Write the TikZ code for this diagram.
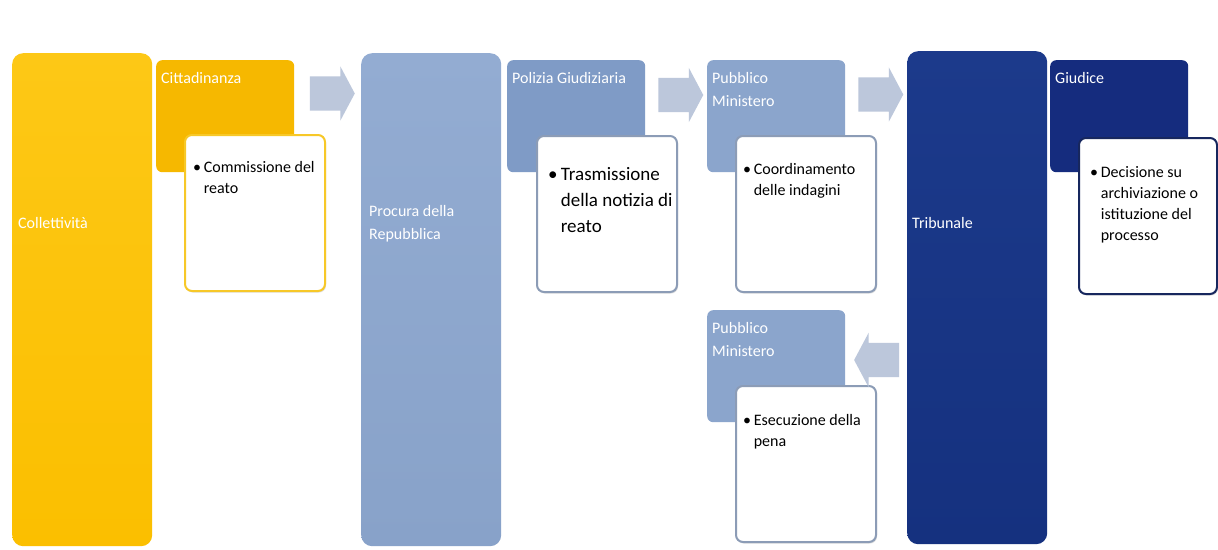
\documentclass[tikz,border=0pt]{standalone}
\usepackage{fontspec}
\setmainfont{Carlito}
\usetikzlibrary{shapes.arrows,shadows,calc}
\definecolor{giallo}{HTML}{FBBF00}
\definecolor{giallochiaro}{HTML}{FDC816}
\definecolor{arancio}{HTML}{F6B800}
\definecolor{bordogiallo}{HTML}{F7C828}
\definecolor{celeste}{HTML}{88A2C9}
\definecolor{celestechiaro}{HTML}{93ACD2}
\definecolor{polizia}{HTML}{7F9BC6}
\definecolor{pmcol}{HTML}{8BA5CC}
\definecolor{bordoceleste}{HTML}{8C9CB6}
\definecolor{blu}{HTML}{15317F}
\definecolor{bluchiaro}{HTML}{1C3A8B}
\definecolor{giudice}{HTML}{152C7E}
\definecolor{bordoblu}{HTML}{17275E}
\definecolor{freccia}{HTML}{BCC7DB}
\newcommand{\punto}[1]{\begin{tabular}[t]{@{}l@{\,}l@{}}\textbullet&\begin{tabular}[t]{@{}l@{}}#1\end{tabular}\end{tabular}}
\begin{document}
\begin{tikzpicture}[x=1pt,y=-1pt,
	colonna/.style={rounded corners=11pt,minimum width=140pt,minimum height=493pt,anchor=north west},
	testata/.style={rounded corners=6pt,minimum width=138pt,minimum height=112pt,anchor=north west},
	scheda/.style={fill=white,line width=2pt,rounded corners=7pt,minimum width=140pt,minimum height=156pt,anchor=north west,drop shadow={opacity=0.25,shadow xshift=1pt,shadow yshift=-1.5pt}},
	blocco/.style={single arrow,fill=freccia,minimum height=45pt,inner xsep=0pt,inner ysep=17pt,single arrow head extend=10pt,single arrow tip angle=124},
	bianco/.style={text=white,font=\fontsize{16}{23}\selectfont,align=left,inner sep=0pt},
	nero/.style={font=\fontsize{16}{21}\selectfont,anchor=north west,inner sep=0pt}]
	\useasboundingbox (0,0) rectangle (1218,549);
	\fill[white] (0,0) rectangle (1218,549);
	% colonne
	\node[colonna,top color=giallochiaro,bottom color=giallo] (coll) at (12,53) {};
	\node[colonna,top color=celestechiaro,bottom color=celeste] (procura) at (361,53) {};
	\node[colonna,top color=bluchiaro,bottom color=blu] (trib) at (907,51) {};
	\node[bianco,anchor=west] at ($(coll.north west)+(6,170)$) {Collettività};
	\node[bianco,anchor=west] at ($(procura.north west)+(8,171)$) {Procura della\\Repubblica};
	\node[bianco,anchor=west] at ($(trib.north west)+(5,172)$) {Tribunale};
	% testate
	\node[testata,fill=arancio] (citt) at (156,60) {};
	\node[testata,fill=polizia] (pg) at (507,60) {};
	\node[testata,fill=pmcol] (pm) at (707,60) {};
	\node[testata,fill=giudice] (giud) at (1050,60) {};
	\node[testata,fill=pmcol] (pmb) at (707,310) {};
	\node[bianco,anchor=north west] at ([xshift=5pt,yshift=-12pt]citt.north west) {Cittadinanza};
	\node[bianco,anchor=north west] at ([xshift=5pt,yshift=-12pt]pg.north west) {Polizia Giudiziaria};
	\node[bianco,anchor=north west] at ([xshift=5pt,yshift=-12pt]pm.north west) {Pubblico\\Ministero};
	\node[bianco,anchor=north west] at ([xshift=5pt,yshift=-12pt]giud.north west) {Giudice};
	\node[bianco,anchor=north west] at ([xshift=5pt,yshift=-12pt]pmb.north west) {Pubblico\\Ministero};
	% schede
	\node[scheda,draw=bordogiallo] (s1) at (184,134) {};
	\node[scheda,draw=bordoceleste] (s2) at (536,135) {};
	\node[scheda,draw=bordoceleste] (s3) at (735,135) {};
	\node[scheda,draw=bordoblu,minimum width=138pt] (s4) at (1078,137) {};
	\node[scheda,draw=bordoceleste] (s5) at (735,385) {};
	\node[nero] at ([xshift=9pt,yshift=-24pt]s1.north west) {\punto{Commissione del\\reato}};
	\node[nero,font=\fontsize{19}{26}\selectfont] at ([xshift=12pt,yshift=-27pt]s2.north west) {\punto{Trasmissione\\della notizia di\\reato}};
	\node[nero] at ([xshift=8pt,yshift=-25pt]s3.north west) {\punto{Coordinamento\\delle indagini}};
	\node[nero] at ([xshift=12pt,yshift=-26pt]s4.north west) {\punto{Decisione su\\archiviazione o\\istituzione del\\processo}};
	\node[nero] at ([xshift=8pt,yshift=-26pt]s5.north west) {\punto{Esecuzione della\\pena}};
	% frecce
	\node[blocco] (f1) at ($(citt.north east)!0.5!(procura.north west)+(0,37)$) {};
	\node[blocco] (f2) at ($(pg.north east)!0.5!(pm.north west)+(0,35)$) {};
	\node[blocco] (f3) at ($(pm.north east)!0.5!(trib.north west)+(0,39)$) {};
	\node[blocco,shape border rotate=180] (f4) at ($(pmb.north east)!0.5!(trib.west |- pmb.north)+(5,50)$) {};
\end{tikzpicture}
\end{document}
